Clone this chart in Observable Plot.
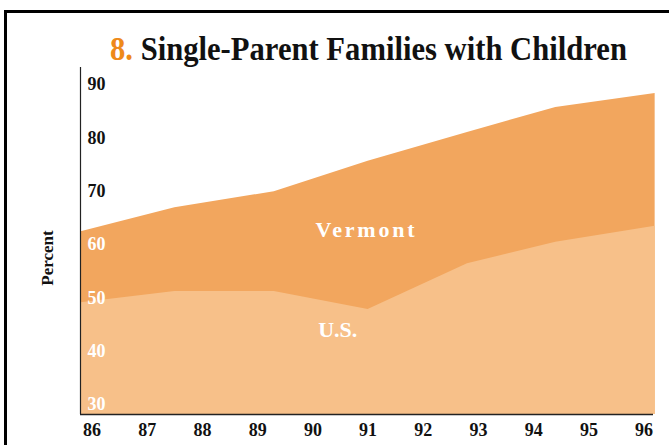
<!DOCTYPE html>
<html>
<head>
<meta charset="utf-8">
<script src="https://cdn.jsdelivr.net/npm/d3@7"></script>
<script src="https://cdn.jsdelivr.net/npm/@observablehq/plot@0.6"></script>
<style>
  html, body { margin: 0; padding: 0; background: #fff; }
  body { width: 669px; height: 445px; overflow: hidden; position: relative;
         font-family: "Liberation Serif", "Times New Roman", serif; }
  #frame { position: absolute; left: 4px; top: 10px; width: 720px; height: 500px;
           border-top: 3px solid #000; border-left: 3px solid #000; box-sizing: border-box; }
  #title { position: absolute; left: 110px; top: 32px; font-size: 34px; line-height: 34px;
           font-family: "Liberation Serif", "Times New Roman", serif;
           font-weight: bold; color: #111; white-space: nowrap; transform-origin: 0 0; }
  #title .num { color: #EE8A1A; }
  #chart { position: absolute; left: 0; top: 64px; }
</style>
</head>
<body>
<div id="frame"></div>
<div id="title"><span class="num">8.</span> Single-Parent Families with Children</div>
<div id="chart"></div>
<script>
// Data
const years      = [85.8, 87.5, 89.3, 91.0, 92.8, 94.4, 96.2];
const vermont    = [62.4, 66.9, 69.9, 75.6, 81.0, 85.7, 88.3];
const us         = [49.1, 51.2, 51.2, 47.8, 56.4, 60.4, 63.4];
const xTicks     = [86, 87, 88, 89, 90, 91, 92, 93, 94, 95, 96];
const yTicks     = [30, 40, 50, 60, 70, 80, 90];
const seriesNames = ["Vermont", "U.S."];
const seriesLabelX = [90.97, 90.45];
const seriesLabelY = [62.8, 43.9];

const xDomain = [85.79, 96.17];
const yDomain = [28.125, 93.19];

const rows = years.map((x, i) => ({x, vermont: vermont[i], us: us[i]}));
const labels = seriesNames.map((name, i) => ({name, x: seriesLabelX[i], y: seriesLabelY[i]}));

const font = '"Liberation Serif", "Times New Roman", serif';

const chart = Plot.plot({
  width: 669,
  height: 381,
  marginTop: 3,
  marginBottom: 31,
  marginLeft: 80,
  marginRight: 16,
  style: {fontFamily: font, background: "transparent", overflow: "visible"},
  x: {domain: xDomain, axis: null},
  y: {domain: yDomain, axis: null},
  marks: [
    Plot.areaY(rows, {x: "x", y1: yDomain[0], y2: "vermont", fill: "#F2A65E"}),
    Plot.areaY(rows, {x: "x", y1: yDomain[0], y2: "us", fill: "#F7C089"}),
    Plot.ruleX([xDomain[0]], {stroke: "#222", strokeWidth: 1.2}),
    Plot.ruleY([yDomain[0]], {stroke: "#222", strokeWidth: 1.6}),
    Plot.text(yTicks, {x: xDomain[0], y: d => d, dx: 7, textAnchor: "start",
      text: d => String(d), fontSize: 18, fontWeight: "bold",
      fill: d => d > 60 ? "#111" : "#ffffff"}),
    Plot.text(xTicks, {x: d => d, y: yDomain[0], dy: 16, textAnchor: "middle",
      text: d => String(d), fontSize: 18, fontWeight: "bold", fill: "#111"}),
    Plot.text(labels, {x: "x", y: "y", text: "name", fontSize: 22, fontWeight: "bold",
      fill: "#ffffff", textAnchor: "middle", className: "series-label"}),
    Plot.text(["Percent"], {frameAnchor: "left", dx: -33, dy: 17, rotate: -90,
      fontSize: 17, fontWeight: "bold", fill: "#111", textAnchor: "middle"})
  ]
});
document.getElementById("chart").appendChild(chart);

// Letter-spaced "Vermont" label as in the reference
d3.select(chart).selectAll("text")
  .filter(function () { return this.textContent === "Vermont"; })
  .attr("letter-spacing", "2.8px");

// Condense the title to the reference width
const t = document.getElementById("title");
const w = t.getBoundingClientRect().width;
t.style.transform = `scaleX(${517 / w})`;
</script>
</body>
</html>
